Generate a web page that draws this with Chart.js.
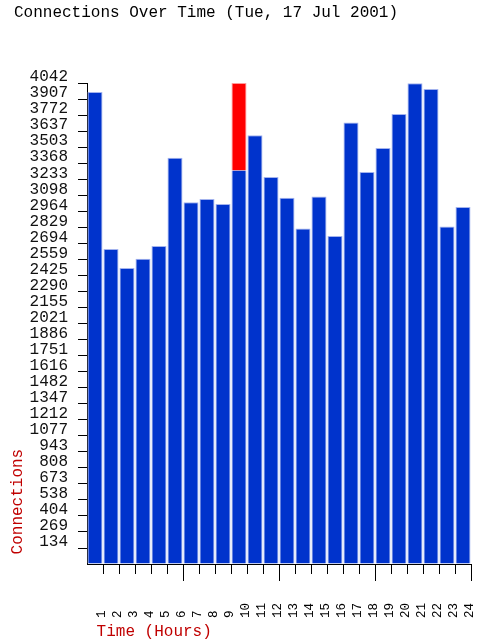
<!DOCTYPE html>
<html>
<head>
<meta charset="utf-8">
<script src="https://cdn.jsdelivr.net/npm/chart.js@4"></script>
<style>
  body { margin: 0; background: #fff; }
  canvas { display: block; }
</style>
</head>
<body>
<canvas id="connChart" width="482" height="641"></canvas>
<script>
const hours = ["1 ", "2 ", "3 ", "4 ", "5 ", "6 ", "7 ", "8 ", "9 ", "10", "11", "12",
               "13", "14", "15", "16", "17", "18", "19", "20", "21", "22", "23", "24"];

// connections per hour
const connections = [3966, 2647, 2487, 2565, 2672, 3414, 3039, 3067, 3025, 3307, 3602, 3252,
                     3078, 2820, 3089, 2756, 3711, 3294, 3496, 3781, 4040, 3991, 2837, 3000];

// part of the hour stacked above the normal count (the peak hour)
const peak = [0, 0, 0, 0, 0, 0, 0, 0, 0, 735, 0, 0,
              0, 0, 0, 0, 0, 0, 0, 0, 0, 0, 0, 0];

const yTicks = [0, 134, 269, 404, 538, 673, 808, 943, 1077, 1212, 1347, 1482, 1616, 1751, 1886,
                2021, 2155, 2290, 2425, 2559, 2694, 2829, 2964, 3098, 3233, 3368, 3503, 3637,
                3772, 3907, 4042];

const MONO = "'Liberation Mono', 'DejaVu Sans Mono', monospace";

// small ticks under each hour, longer ones every 6 hours
const hourTicks = {
    id: "hourTicks",
    afterDraw(chart) {
        const { ctx, chartArea, scales: { x } } = chart;
        ctx.save();
        ctx.strokeStyle = "#000";
        ctx.lineWidth = 1;
        ctx.beginPath();
        for (let i = 1; i <= hours.length; i++) {
            const px = i < hours.length
                ? (x.getPixelForValue(i - 1) + x.getPixelForValue(i)) / 2
                : chartArea.right;
            const len = i % 6 === 0 ? 17 : 10;
            const xx = Math.round(px) + 0.5;
            ctx.moveTo(xx, chartArea.bottom);
            ctx.lineTo(xx, chartArea.bottom + len);
        }
        ctx.stroke();
        ctx.restore();
    }
};

new Chart(document.getElementById("connChart"), {
    type: "bar",
    data: {
        labels: hours,
        datasets: [
            {
                label: "Connections",
                data: connections,
                backgroundColor: "#0033cc",
                borderColor: "#a3b3ee",
                borderWidth: ctx => peak[ctx.dataIndex]
                    ? { left: 1, right: 1, top: 0, bottom: 0 }
                    : { left: 1, right: 1, top: 1, bottom: 0 },
                borderSkipped: false,
                barPercentage: 0.94,
                categoryPercentage: 1
            },
            {
                label: "Peak",
                data: peak,
                backgroundColor: "#ff0000",
                borderColor: "#ff9a9a",
                borderWidth: { left: 1, right: 1, top: 1, bottom: 0 },
                borderSkipped: false,
                barPercentage: 0.94,
                categoryPercentage: 1
            }
        ]
    },
    options: {
        responsive: false,
        animation: false,
        layout: { padding: { left: 14, right: 11, top: 0, bottom: 0 } },
        plugins: {
            legend: { display: false },
            tooltip: { enabled: false },
            title: {
                display: true,
                text: "Connections Over Time (Tue, 17 Jul 2001)",
                align: "start",
                color: "#000",
                font: { family: MONO, size: 16, weight: "normal", lineHeight: 1.2 },
                padding: { top: 3.4, bottom: 60.4 }
            }
        },
        scales: {
            x: {
                stacked: true,
                offset: true,
                grid: { display: false },
                border: { display: true, color: "#000", width: 1 },
                ticks: {
                    autoSkip: false,
                    minRotation: 90,
                    maxRotation: 90,
                    padding: 31,
                    labelOffset: 7,
                    color: "#000",
                    font: { family: MONO, size: 12.5, lineHeight: 1.2 }
                },
                title: {
                    display: true,
                    text: " Time (Hours)",
                    align: "start",
                    color: "#c00000",
                    font: { family: MONO, size: 16, lineHeight: 1.2 },
                    padding: { top: 0, bottom: 0 }
                },
                afterFit(scale) {
                    scale.height = 77;
                    scale.paddingLeft = 0;
                    scale.paddingRight = 0;
                }
            },
            y: {
                stacked: true,
                min: 0,
                max: 4042,
                afterBuildTicks(scale) {
                    scale.ticks = yTicks.map(v => ({ value: v }));
                },
                grid: {
                    drawOnChartArea: false,
                    tickLength: 9,
                    tickColor: ctx => ctx.index === 0 ? "rgba(0,0,0,0)" : "#000"
                },
                border: { display: true, color: "#000", width: 1 },
                ticks: {
                    autoSkip: false,
                    padding: 10,
                    labelOffset: -6,
                    color: "#111",
                    font: { family: MONO, size: 16, lineHeight: 1 },
                    callback: v => v === 0 ? "" : String(v)
                },
                title: {
                    display: true,
                    text: " Connections",
                    align: "start",
                    color: "#c00000",
                    font: { family: MONO, size: 16, lineHeight: 0.5 },
                    padding: { top: 0, bottom: 0 }
                },
                afterFit(scale) {
                    scale.width = 73;
                    scale.paddingTop = 0;
                    scale.paddingBottom = 0;
                }
            }
        }
    },
    plugins: [hourTicks]
});
</script>
</body>
</html>
